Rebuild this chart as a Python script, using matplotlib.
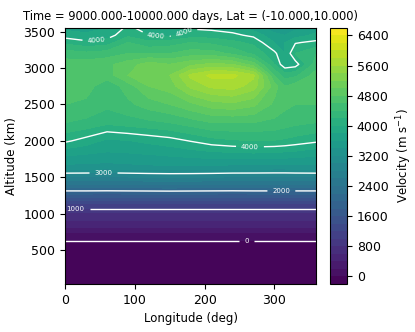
import numpy as np
import matplotlib
matplotlib.use('Agg')
import matplotlib.pyplot as plt

# longitudes (deg) and altitudes (km) of the grid
lons = [0, 30, 60, 90, 120, 150, 180, 210, 240, 270, 300, 315, 330, 360]
alts = [40, 300, 580, 680, 850, 1000, 1150, 1400, 1650, 1850, 2000, 2250,
        2500, 2750, 2900, 3050, 3200, 3350, 3450, 3550]

# velocity (m/s), one row per altitude
vel = [
    [-100] * 14,
    [-100] * 14,
    [-60] * 14,
    [60] * 14,
    [500] * 14,
    [780] * 14,
    [1230] * 14,
    [2400, 2400, 2390, 2400, 2410, 2420, 2410, 2400, 2390, 2400, 2400, 2400, 2400, 2400],
    [3350, 3340, 3330, 3350, 3370, 3380, 3380, 3370, 3350, 3340, 3330, 3330, 3340, 3350],
    [3700, 3650, 3600, 3620, 3650, 3690, 3740, 3790, 3820, 3840, 3820, 3800, 3780, 3700],
    [4040, 3910, 3750, 3790, 3850, 3910, 4010, 4115, 4170, 4195, 4185, 4160, 4115, 4040],
    [4400, 4350, 4250, 4300, 4350, 4400, 4500, 4600, 4600, 4600, 4550, 4500, 4450, 4400],
    [4600, 4550, 4450, 4550, 4700, 4800, 4950, 5100, 5150, 5050, 4750, 4650, 4600, 4600],
    [4700, 4700, 4450, 4700, 5000, 5100, 5450, 5650, 5700, 5500, 4900, 4600, 4700, 4700],
    [4800, 4800, 4700, 5000, 5200, 5200, 5650, 5850, 5850, 5650, 4600, 4300, 4350, 4700],
    [4700, 4700, 4750, 4900, 5100, 5000, 5150, 5250, 5200, 4900, 4200, 3850, 3900, 4500],
    [4500, 4450, 4500, 4600, 4600, 4600, 4700, 4700, 4550, 4350, 4050, 3800, 4200, 4400],
    [4150, 4050, 4100, 4400, 4250, 4300, 4400, 4350, 4250, 4150, 3800, 3800, 3980, 4050],
    [3900, 3850, 3900, 4150, 4000, 3950, 4100, 4100, 4050, 3950, 3650, 3600, 3700, 3850],
    [3750, 3700, 3800, 4050, 3900, 3900, 3980, 3950, 3900, 3700, 3500, 3500, 3550, 3700],
]

fill_levels = np.arange(-200, 6601, 200)
line_levels = [0, 1000, 2000, 3000, 4000]
cbar_ticks = np.arange(0, 6401, 800)

X, Y = np.meshgrid(lons, alts)
Z = np.array(vel, dtype=float)

fig = plt.figure(figsize=(4.15, 3.32), dpi=100)
ax = fig.add_axes([0.157, 0.145, 0.605, 0.771])
cax = fig.add_axes([0.795, 0.145, 0.041, 0.771])

cf = ax.contourf(X, Y, Z, levels=fill_levels, cmap='viridis')
cs = ax.contour(X, Y, Z, levels=line_levels, colors='white', linewidths=1.0)
ax.clabel(cs, fmt='%d', fontsize=5, inline=True,
          manual=[(260, 630), (15, 1075), (310, 1310), (55, 1560),
                  (265, 1920), (45, 3360), (130, 3450), (170, 3500)])

ax.set_xlim(0, 360)
ax.set_ylim(40, 3550)
ax.set_xticks([0, 100, 200, 300])
ax.set_yticks([500, 1000, 1500, 2000, 2500, 3000, 3500])
ax.tick_params(labelsize=9)
ax.set_xlabel('Longitude (deg)', fontsize=8.5)
ax.set_ylabel('Altitude (km)', fontsize=8.5)
ax.set_title('Time = 9000.000-10000.000 days, Lat = (-10.000,10.000)', fontsize=8.3)

cb = fig.colorbar(cf, cax=cax, ticks=cbar_ticks)
cb.ax.tick_params(labelsize=9)
cb.set_label('Velocity (m s$^{-1}$)', fontsize=8.5)

fig.savefig('out.png', dpi=100)
